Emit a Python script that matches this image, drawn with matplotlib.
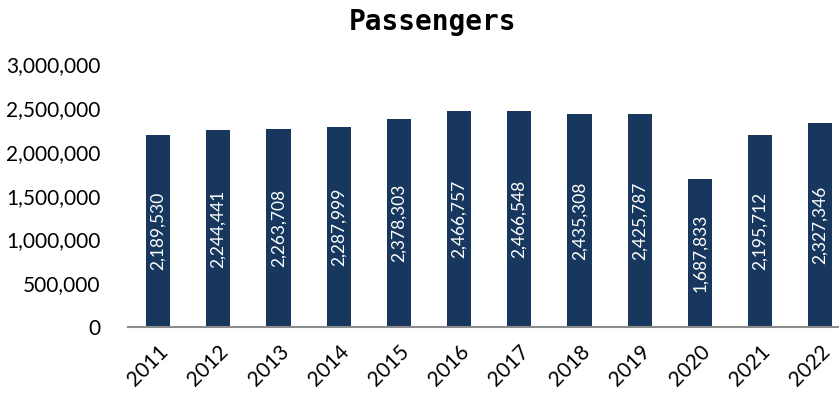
import matplotlib.pyplot as plt
from matplotlib.ticker import FuncFormatter

# annual passenger counts
years = ['2011', '2012', '2013', '2014', '2015', '2016',
         '2017', '2018', '2019', '2020', '2021', '2022']
passengers = [2189530, 2244441, 2263708, 2287999, 2378303, 2466757,
              2466548, 2435308, 2425787, 1687833, 2195712, 2327346]

bar_color = '#17375E'

fig = plt.figure(figsize=(8.39, 3.96), dpi=100)
ax = fig.add_axes([0.1526, 0.174, 0.861, 0.664])

x = range(len(years))
bars = ax.bar(x, passengers, width=0.4, color=bar_color, zorder=2)

for xi, v in zip(x, passengers):
    ax.text(xi, v / 2, f'{v:,}', rotation=90, ha='center', va='center',
            color='white', fontsize=12.5, family='Lato')

ax.set_xlim(-0.5, 11.5)
ax.set_ylim(0, 3000000)
ax.set_yticks(range(0, 3000001, 500000))
ax.yaxis.set_major_formatter(FuncFormatter(lambda v, p: f'{int(v):,}'))
ax.set_xticks(list(x))
ax.set_xticklabels(years, rotation=45, ha='right', rotation_mode='anchor')

for lab in ax.get_yticklabels() + ax.get_xticklabels():
    lab.set_family('Lato')
    lab.set_fontsize(15)

ax.tick_params(axis='both', length=0)
ax.tick_params(axis='y', pad=20)
ax.tick_params(axis='x', pad=10)

for side in ['top', 'right', 'left']:
    ax.spines[side].set_visible(False)
ax.spines['bottom'].set_color('#8c8c8c')
ax.spines['bottom'].set_linewidth(1.5)

fig.text(0.515, 0.945, 'Passengers', ha='center', va='center',
         fontsize=20, fontweight='bold', family='DejaVu Sans Mono')

fig.savefig('out.png', dpi=100)
